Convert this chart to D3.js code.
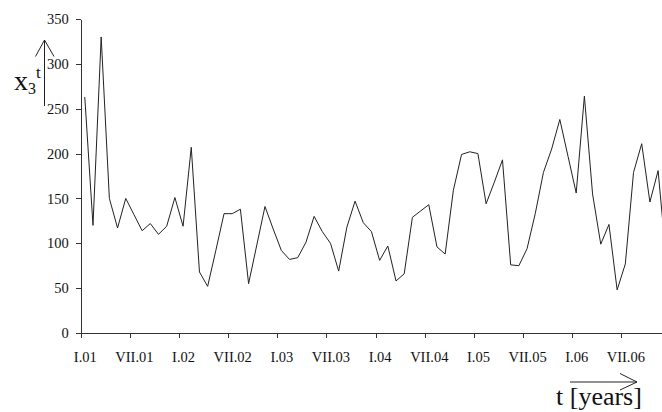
<!DOCTYPE html>
<html>
<head>
<meta charset="utf-8">
<script src="https://cdn.jsdelivr.net/npm/d3@7"></script>
<style>
  body { margin: 0; background: #fff; }
  svg { display: block; font-family: "Liberation Serif", "Times New Roman", serif; }
  .axis path, .axis line { stroke: #333; shape-rendering: crispEdges; }
  .axis text { fill: #111; font-size: 14.5px; font-family: "Liberation Serif", serif; }
</style>
</head>
<body>
<svg id="chart" width="662" height="412"></svg>
<script>
// monthly values, I.2001 .. XII.2006
var values_2001 = [263, 120, 330, 150, 117, 150, 132, 114, 122, 110, 119, 151];
var values_2002 = [119, 207, 68, 52, 92, 133, 133, 138, 55, 98, 141, 116];
var values_2003 = [92, 82, 84, 101, 130, 113, 100, 69, 118, 147, 123, 113];
var values_2004 = [81, 97, 58, 66, 129, 136, 143, 96, 88, 159, 199, 202];
var values_2005 = [200, 144, 168, 193, 76, 75, 94, 133, 179, 205, 238, 197];
var values_2006 = [156, 264, 155, 99, 121, 48, 77, 179, 211, 146, 181, 81];

var tick_labels = ["I.01", "VII.01", "I.02", "VII.02", "I.03", "VII.03",
                   "I.04", "VII.04", "I.05", "VII.05", "I.06", "VII.06"];
var y_ticks = [0, 50, 100, 150, 200, 250, 300, 350];

var values = [].concat(values_2001, values_2002, values_2003,
                       values_2004, values_2005, values_2006);

var svg = d3.select("#chart");

var x0 = 80.7, step = 8.19;

// one band per month, line points sit in the middle of each band
var x = d3.scaleBand()
  .domain(d3.range(values.length))
  .range([x0, x0 + step * values.length])
  .padding(0);

var xTick = d3.scaleLinear()
  .domain([0, values.length])
  .range([x0, x0 + step * values.length]);

var y = d3.scaleLinear()
  .domain([0, 350])
  .range([333, 19]);

// x axis
var gx = svg.append("g")
  .attr("class", "axis")
  .attr("transform", "translate(0," + y(0) + ")")
  .call(d3.axisBottom(xTick)
    .tickValues(d3.range(0, values.length, 6))
    .tickSize(5)
    .tickSizeOuter(0)
    .tickPadding(14)
    .tickFormat(function(d, i) { return tick_labels[i]; }));

gx.selectAll("text").attr("dx", x.bandwidth() / 2);

// y axis
svg.append("g")
  .attr("class", "axis")
  .attr("transform", "translate(" + x0 + ",0)")
  .call(d3.axisLeft(y)
    .tickValues(y_ticks)
    .tickSize(5)
    .tickSizeOuter(0)
    .tickPadding(7));

// the series
var line = d3.line()
  .x(function(d, i) { return x(i) + x.bandwidth() / 2; })
  .y(function(d) { return y(d); });

svg.append("path")
  .datum(values)
  .attr("fill", "none")
  .attr("stroke", "#222")
  .attr("stroke-width", 1)
  .attr("stroke-linejoin", "miter")
  .attr("d", line);

// y label with arrow
var ylab = svg.append("text")
  .attr("x", 14)
  .attr("y", 90)
  .attr("fill", "#111")
  .style("font-size", "28px");
ylab.append("tspan").text("x");
ylab.append("tspan").attr("dy", 4).style("font-size", "16px").text("3");
ylab.append("tspan").attr("x", 36).attr("y", 78).style("font-size", "17px").text("t");

svg.append("path")
  .attr("d", "M44.5,106V40M35.5,56.5L44.5,40L54,56.5")
  .attr("fill", "none")
  .attr("stroke", "#222")
  .attr("stroke-width", 1);

// x label with arrow
svg.append("text")
  .attr("x", 556)
  .attr("y", 405)
  .attr("fill", "#111")
  .style("font-size", "26px")
  .text("t [years]");

svg.append("path")
  .attr("d", "M570,382H637M620,373.5L637,382L620,390")
  .attr("fill", "none")
  .attr("stroke", "#222")
  .attr("stroke-width", 1);
</script>
</body>
</html>
